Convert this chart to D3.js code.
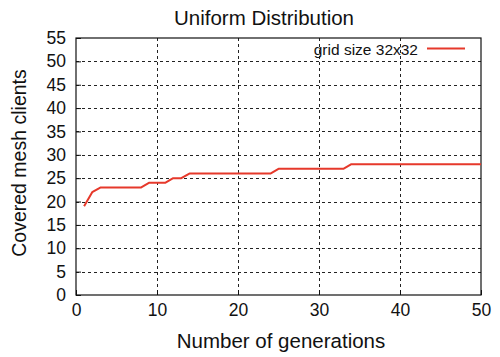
<!DOCTYPE html>
<html>
<head>
<meta charset="utf-8">
<script src="https://cdn.jsdelivr.net/npm/d3@7"></script>
<style>
  body { margin: 0; background: #fff; }
  svg { display: block; font-family: "Liberation Sans", Arial, sans-serif; }
</style>
</head>
<body>
<svg id="chart" width="500" height="357"></svg>
<script>
// Generations and covered clients per generation
const generations = d3.range(1, 51);
const covered = [
  19, 22, 23, 23, 23, 23, 23, 23, 24, 24,
  24, 25, 25, 26, 26, 26, 26, 26, 26, 26,
  26, 26, 26, 26, 27, 27, 27, 27, 27, 27,
  27, 27, 27, 28, 28, 28, 28, 28, 28, 28,
  28, 28, 28, 28, 28, 28, 28, 28, 28, 28
];
const xTicks = [0, 10, 20, 30, 40, 50];
const yTicks = [0, 5, 10, 15, 20, 25, 30, 35, 40, 45, 50, 55];
const seriesName = "grid size 32x32";
const title = "Uniform Distribution";
const xLabel = "Number of generations";
const yLabel = "Covered mesh clients";

const svg = d3.select("#chart");
const m = { left: 76, right: 481, top: 38, bottom: 295 };

const x = d3.scaleLinear().domain([0, 50]).range([m.left, m.right]);
const y = d3.scaleLinear().domain([0, 55]).range([m.bottom, m.top]);

// dashed grid
const grid = svg.append("g").attr("stroke", "#222").attr("stroke-width", 1)
  .attr("stroke-dasharray", "3,3").attr("shape-rendering", "crispEdges");
grid.selectAll(".gy").data(yTicks.filter(d => d > 0 && d < 55)).join("line")
  .attr("x1", m.left).attr("x2", m.right)
  .attr("y1", d => Math.round(y(d)) + 0.5).attr("y2", d => Math.round(y(d)) + 0.5);
grid.selectAll(".gx").data(xTicks.filter(d => d > 0 && d < 50)).join("line")
  .attr("y1", m.top).attr("y2", m.bottom)
  .attr("x1", d => Math.round(x(d)) + 0.5).attr("x2", d => Math.round(x(d)) + 0.5);

// axes with inward ticks
const xAxis = svg.append("g").attr("transform", `translate(0,${m.bottom})`)
  .call(d3.axisBottom(x).tickValues(xTicks).tickSizeInner(-5).tickSizeOuter(0).tickPadding(10));
const yAxis = svg.append("g").attr("transform", `translate(${m.left},0)`)
  .call(d3.axisLeft(y).tickValues(yTicks).tickSizeInner(-5).tickSizeOuter(0).tickPadding(10));
[xAxis, yAxis].forEach(a => {
  a.select(".domain").remove();
  a.selectAll("text").attr("font-size", 17.5).attr("fill", "#111")
    .attr("font-family", "'Liberation Sans', Arial, sans-serif");
  a.selectAll("line").attr("stroke", "#111");
});
xAxis.selectAll("text").attr("dy", "0.71em").attr("y", 9);

// frame
svg.append("rect").attr("x", m.left).attr("y", m.top)
  .attr("width", m.right - m.left).attr("height", m.bottom - m.top)
  .attr("fill", "none").attr("stroke", "#111").attr("stroke-width", 1.2);

// series line
const color = "#e6392b";
svg.append("path").datum(covered)
  .attr("fill", "none").attr("stroke", color).attr("stroke-width", 2)
  .attr("stroke-linejoin", "round")
  .attr("d", d3.line().x((d, i) => x(generations[i])).y(d => y(d)));

// legend
svg.append("text").attr("x", 418).attr("y", 55).attr("text-anchor", "end")
  .attr("font-size", 15.5).attr("fill", "#111").text(seriesName);
svg.append("line").attr("x1", 427).attr("x2", 465).attr("y1", 48.5).attr("y2", 48.5)
  .attr("stroke", color).attr("stroke-width", 2);

// titles
svg.append("text").attr("x", 264).attr("y", 24.5).attr("text-anchor", "middle")
  .attr("font-size", 20.5).attr("fill", "#111").text(title);
svg.append("text").attr("x", 281).attr("y", 347.5).attr("text-anchor", "middle")
  .attr("font-size", 20.5).attr("fill", "#111").text(xLabel);
svg.append("text").attr("transform", "translate(26,163) rotate(-90)")
  .attr("text-anchor", "middle").attr("font-size", 19.5).attr("fill", "#111").text(yLabel);
</script>
</body>
</html>
